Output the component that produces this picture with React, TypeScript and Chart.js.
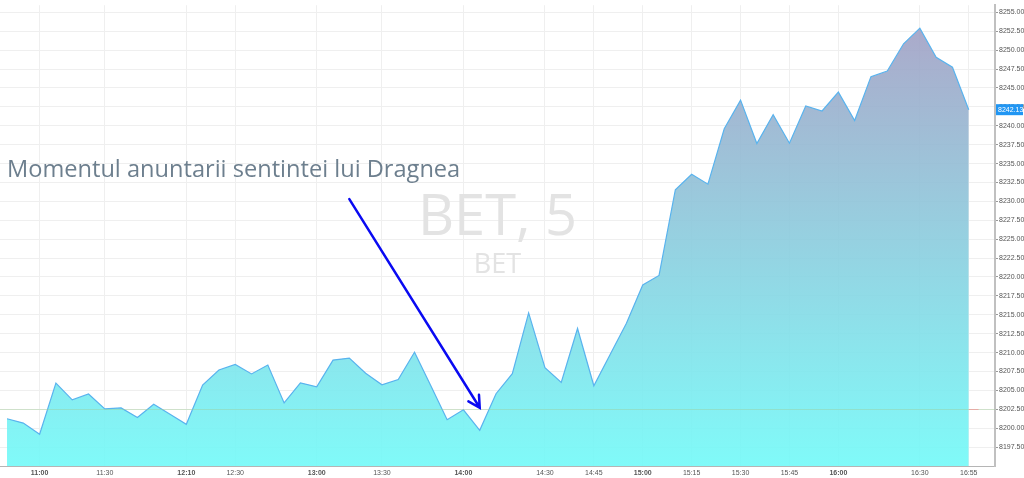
import { useEffect, useRef } from 'react';
import { Chart, ChartConfiguration, registerables } from 'chart.js';

Chart.register(...registerables);

// BET, 5 minute closes (index = bar number)
const prices = [
  8201.25, 8200.68, 8199.2, 8205.96, 8203.74, 8204.52, 8202.56, 8202.69, 8201.42, 8203.16,
  8201.85, 8200.51, 8205.7, 8207.7, 8208.44, 8207.18, 8208.35, 8203.35, 8206.0, 8205.48,
  8209.01, 8209.27, 8207.27, 8205.74, 8206.43, 8210.05, 8205.61, 8201.12, 8202.43, 8199.72,
  8204.56, 8207.22, 8215.25, 8208.0, 8206.04, 8213.19, 8205.61, 8209.75, 8213.89, 8218.95,
  8220.21, 8231.54, 8233.59, 8232.28, 8239.61, 8243.4, 8237.65, 8241.48, 8237.69, 8242.62,
  8241.96, 8244.45, 8240.69, 8246.5, 8247.23, 8250.85, 8252.91, 8249.06, 8247.75, 8242.13,
];

const tickIndex = [2, 6, 11, 14, 19, 23, 28, 33, 36, 39, 42, 45, 48, 51, 56, 59];
const tickText = [
  '11:00', '11:30', '12:10', '12:30', '13:00', '13:30', '14:00', '14:30',
  '14:45', '15:00', '15:15', '15:30', '15:45', '16:00', '16:30', '16:55',
];
const boldTicks = ['11:00', '12:10', '13:00', '14:00', '15:00', '16:00'];

const priceTicks = [
  8197.5, 8200, 8202.5, 8205, 8207.5, 8210, 8212.5, 8215, 8217.5, 8220, 8222.5, 8225,
  8227.5, 8230, 8232.5, 8235, 8237.5, 8240, 8242.5, 8245, 8247.5, 8250, 8252.5, 8255,
];

const prevClose = 8202.6;
const lastPrice = 8242.13;

const noteText = 'Momentul anuntarii sentintei lui Dragnea';
const noteAt = [0, 8233.2]; // bar index, price
const arrowFrom = [21, 8230.3];
const arrowTo = [29, 8202.7];

const overlayPlugin = {
  id: 'overlay',
  beforeDatasetsDraw(chart: Chart) {
    const { ctx, chartArea } = chart;
    const cx = (chartArea.left + chartArea.right) / 2;
    ctx.save();
    ctx.fillStyle = '#e3e3e3';
    ctx.textAlign = 'center';
    ctx.textBaseline = 'alphabetic';
    ctx.font = '56px "Open Sans"';
    ctx.fillText('BET, 5', cx, 235);
    ctx.font = '27px "Open Sans"';
    ctx.fillText('BET', cx, 273);
    ctx.restore();
  },
  afterDatasetsDraw(chart: Chart) {
    const { ctx, chartArea } = chart;
    const x = chart.scales.x;
    const y = chart.scales.y;
    ctx.save();

    // previous close line
    const py = Math.round(y.getPixelForValue(prevClose)) + 0.5;
    ctx.strokeStyle = 'rgba(160, 205, 150, 0.4)';
    ctx.lineWidth = 1;
    ctx.beginPath();
    ctx.moveTo(chartArea.left, py);
    ctx.lineTo(chartArea.right, py);
    ctx.stroke();
    ctx.strokeStyle = 'rgba(240, 150, 150, 0.7)';
    ctx.beginPath();
    ctx.moveTo(x.getPixelForValue(prices.length - 1), py);
    ctx.lineTo(x.getPixelForValue(prices.length - 0.4), py);
    ctx.stroke();

    // note
    ctx.fillStyle = '#6d7f8e';
    ctx.font = '23.6px "Open Sans"';
    ctx.textBaseline = 'alphabetic';
    ctx.fillText(noteText, x.getPixelForValue(noteAt[0]), y.getPixelForValue(noteAt[1]));

    // arrow
    const x1 = x.getPixelForValue(arrowFrom[0]);
    const y1 = y.getPixelForValue(arrowFrom[1]);
    const x2 = x.getPixelForValue(arrowTo[0]);
    const y2 = y.getPixelForValue(arrowTo[1]);
    const ang = Math.atan2(y2 - y1, x2 - x1);
    ctx.strokeStyle = '#0a0af2';
    ctx.lineWidth = 2.5;
    ctx.lineCap = 'round';
    ctx.beginPath();
    ctx.moveTo(x1, y1);
    ctx.lineTo(x2, y2);
    ctx.moveTo(x2 - 13 * Math.cos(ang - 0.5), y2 - 13 * Math.sin(ang - 0.5));
    ctx.lineTo(x2, y2);
    ctx.lineTo(x2 - 13 * Math.cos(ang + 0.5), y2 - 13 * Math.sin(ang + 0.5));
    ctx.stroke();
    ctx.restore();
  },
  afterDraw(chart: Chart) {
    const { ctx, chartArea } = chart;
    const y = chart.scales.y;
    const ly = y.getPixelForValue(lastPrice);
    ctx.save();
    ctx.fillStyle = '#2196f3';
    ctx.fillRect(chartArea.right + 1, ly - 5.5, 27, 11);
    ctx.fillStyle = '#ffffff';
    ctx.font = '7px "Liberation Sans"';
    ctx.textBaseline = 'middle';
    ctx.fillText(lastPrice.toFixed(2), chartArea.right + 3, ly + 0.5);
    ctx.restore();
  },
};

const App = () => {
  const canvasRef = useRef<HTMLCanvasElement>(null);
  const chartRef = useRef<Chart | null>(null);

  useEffect(() => {
    document.body.style.margin = '0';
    if (!canvasRef.current) return;
    if (chartRef.current) chartRef.current.destroy();
    const ctx = canvasRef.current.getContext('2d');
    if (!ctx) return;

    const config: ChartConfiguration = {
      type: 'line',
      data: {
        datasets: [
          {
            label: 'BET',
            data: prices.map((v, i) => ({ x: i, y: v })),
            borderColor: '#59b3ee',
            borderWidth: 1.2,
            pointRadius: 0,
            tension: 0,
            fill: 'start',
            backgroundColor: (c: any) => {
              const area = c.chart.chartArea;
              if (!area) return 'rgba(114, 248, 247, 0.9)';
              const g = c.chart.ctx.createLinearGradient(0, area.top, 0, area.bottom);
              g.addColorStop(0, 'rgba(164, 156, 194, 0.9)');
              g.addColorStop(1, 'rgba(114, 250, 248, 0.9)');
              return g;
            },
          },
        ],
      },
      options: {
        responsive: true,
        maintainAspectRatio: false,
        animation: false,
        layout: { padding: 0 },
        plugins: {
          legend: { display: false },
          tooltip: { enabled: false },
        },
        scales: {
          x: {
            type: 'linear',
            min: -0.43,
            max: 60.61,
            afterBuildTicks: (scale: any) => {
              scale.ticks = tickIndex.map(v => ({ value: v }));
            },
            afterFit: (scale: any) => {
              scale.height = 12;
            },
            grid: { color: '#efefef', drawTicks: false },
            border: { color: '#b5b5b5', width: 1 },
            ticks: {
              autoSkip: false,
              maxRotation: 0,
              padding: 3,
              color: '#555555',
              font: (c: any) => ({
                family: '"Liberation Sans"',
                size: 7,
                weight: boldTicks.includes(tickText[tickIndex.indexOf(c.tick?.value)]) ? 'bold' : 'normal',
              }),
              callback: (value: any) => tickText[tickIndex.indexOf(Number(value))] ?? '',
            },
          },
          y: {
            type: 'linear',
            position: 'right',
            min: 8195.0,
            max: 8255.95,
            afterBuildTicks: (scale: any) => {
              scale.ticks = priceTicks.map(v => ({ value: v }));
            },
            afterFit: (scale: any) => {
              scale.width = 29;
            },
            grid: { color: '#efefef', tickColor: '#999999', tickLength: 3 },
            border: { color: '#c0c0c0', width: 2 },
            ticks: {
              padding: 1,
              color: '#555555',
              font: { family: '"Liberation Sans"', size: 7 },
              callback: (value: any) => Number(value).toFixed(2),
            },
          },
        },
      },
      plugins: [overlayPlugin],
    };

    chartRef.current = new Chart(ctx, config);

    return () => {
      if (chartRef.current) {
        chartRef.current.destroy();
        chartRef.current = null;
      }
    };
  }, []);

  return (
    <div style={{ width: 1024, height: 478, position: 'relative', background: '#ffffff' }}>
      <canvas ref={canvasRef}></canvas>
    </div>
  );
};

export default App;
